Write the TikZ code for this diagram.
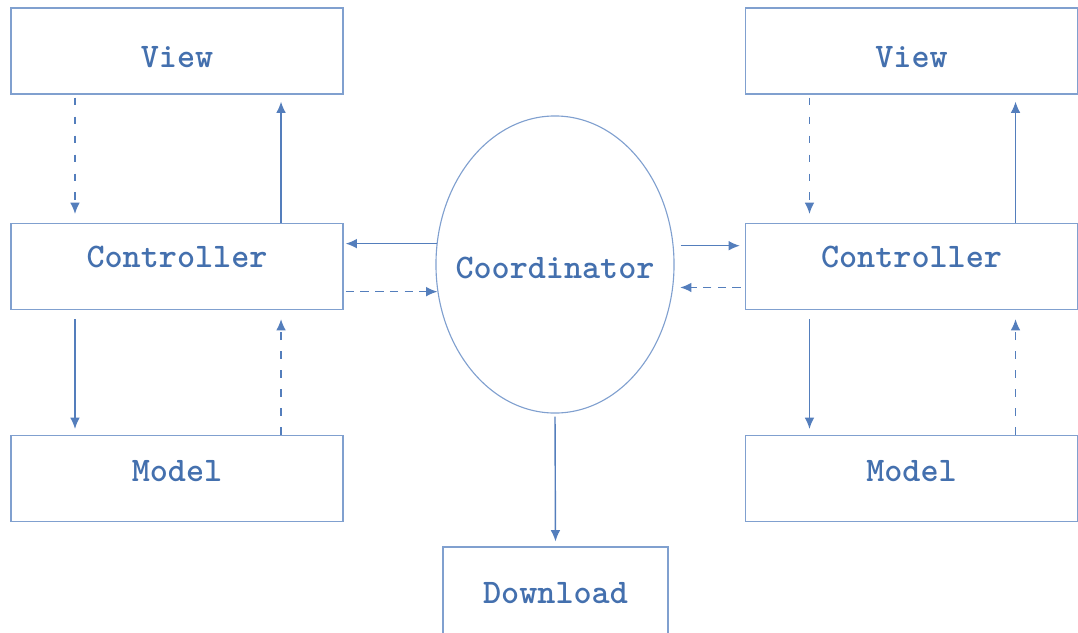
\documentclass[tikz,border=0pt]{standalone}
\usepackage{fontspec}
\usetikzlibrary{arrows.meta,shapes.geometric}
\definecolor{boxblue}{RGB}{128,160,207}
\definecolor{arrowblue}{RGB}{84,126,188}
\definecolor{textblue}{RGB}{68,112,174}
\begin{document}
\begin{tikzpicture}[x=0.025cm,y=-0.025cm,
	every node/.style={text=textblue,font=\ttfamily\bfseries\fontsize{24.5}{27}\selectfont},
	box/.style={rectangle,draw=boxblue,line width=0.8pt,minimum width=8.3cm,minimum height=2.15cm,inner sep=0pt},
	flow/.style={draw=arrowblue,line width=1pt,-{Latex[length=2.8mm,width=2.4mm]}},
	vdep/.style={flow,dash pattern=on 5.5pt off 8pt},
	hdep/.style={flow,dash pattern=on 6pt off 4.5pt},]
\useasboundingbox (0,0) rectangle (1078,632);
\node[box,label={[yshift=-0.15cm]center:View}] (lview) at (177,51) {};
\node[box,label={[yshift=0.24cm]center:Controller}] (lctrl) at (177,266.5) {};
\node[box,label={[yshift=0.19cm]center:Model}] (lmodel) at (177,478.5) {};
\node[box,label={[yshift=-0.15cm]center:View}] (rview) at (911.5,51) {};
\node[box,label={[yshift=0.24cm]center:Controller}] (rctrl) at (911.5,266.5) {};
\node[box,label={[yshift=0.19cm]center:Model}] (rmodel) at (911.5,478.5) {};
\node[ellipse,draw=boxblue,line width=0.8pt,minimum width=5.95cm,minimum height=7.425cm,inner sep=0pt,
	label={[yshift=-0.09cm]center:Coordinator}] (coord) at (555,264.5) {};
\node[box,minimum width=5.625cm,minimum height=2.2cm,label={[yshift=-0.05cm]center:Download}] (down) at (555.5,591) {};
\draw[vdep,shorten <=0.075cm,shorten >=0.225cm] ([xshift=-2.55cm]lview.south) -- ([xshift=-2.55cm]lctrl.north);
\draw[flow,shorten >=0.175cm] ([xshift=2.6cm]lctrl.north) -- ([xshift=2.6cm]lview.south);
\draw[flow,shorten <=0.225cm,shorten >=0.15cm] ([xshift=-2.55cm]lctrl.south) -- ([xshift=-2.55cm]lmodel.north);
\draw[vdep,shorten >=0.225cm] ([xshift=2.6cm]lmodel.north) -- ([xshift=2.6cm]lctrl.south);
\draw[vdep,shorten <=0.075cm,shorten >=0.225cm] ([xshift=-2.55cm]rview.south) -- ([xshift=-2.55cm]rctrl.north);
\draw[flow,shorten >=0.175cm] ([xshift=2.6cm]rctrl.north) -- ([xshift=2.6cm]rview.south);
\draw[flow,shorten <=0.225cm,shorten >=0.15cm] ([xshift=-2.55cm]rctrl.south) -- ([xshift=-2.55cm]rmodel.north);
\draw[vdep,shorten >=0.225cm] ([xshift=2.6cm]rmodel.north) -- ([xshift=2.6cm]rctrl.south);
\draw[flow,shorten >=0.05cm] (coord.170.6) -- (coord.170.6 -| lctrl.east);
\draw[hdep,shorten <=0.05cm] (coord.193.2 -| lctrl.east) -- (coord.193.2);
\draw[flow,shorten <=0.175cm,shorten >=0.125cm] (coord.9.4) -- (coord.9.4 -| rctrl.west);
\draw[hdep,shorten <=0.1cm,shorten >=0.175cm] (coord.-11.3 -| rctrl.west) -- (coord.-11.3);
\draw[flow,shorten <=0.075cm,shorten >=0.125cm] (coord.south) -- (down.north);
\end{tikzpicture}
\end{document}
